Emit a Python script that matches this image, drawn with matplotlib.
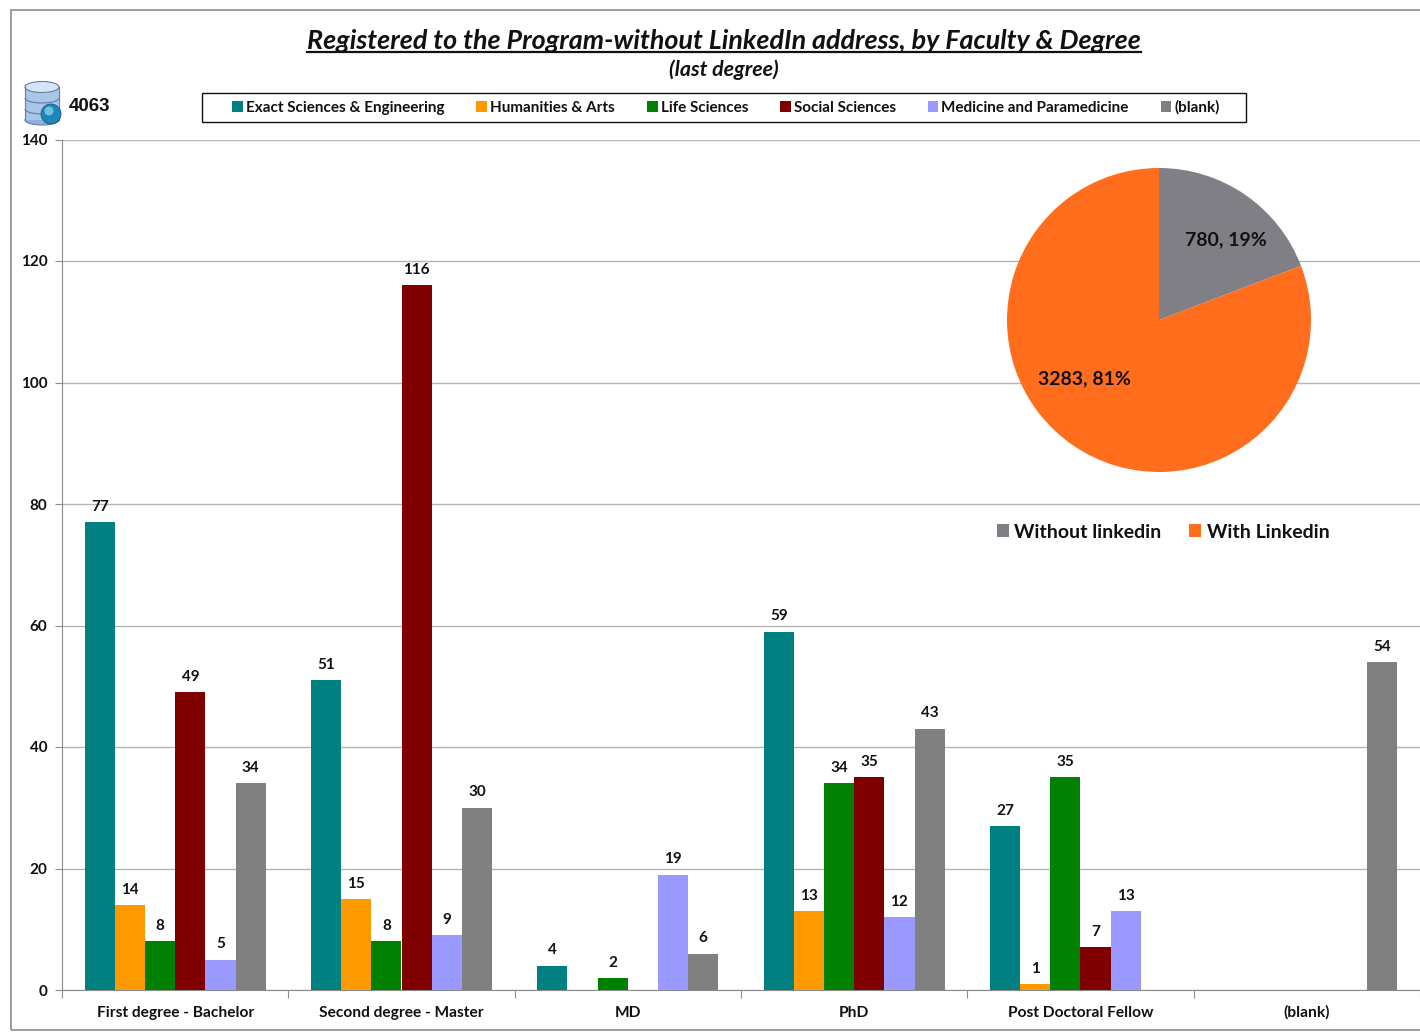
import numpy as np
import matplotlib
matplotlib.use('Agg')
import matplotlib.pyplot as plt
from matplotlib.patches import Rectangle, Ellipse, Circle, Arc
from matplotlib.lines import Line2D

plt.rcParams['font.family'] = ['Lato', 'DejaVu Sans']
plt.rcParams['font.weight'] = 'bold'

# values
degrees = ['First degree - Bachelor', 'Second degree - Master', 'MD', 'PhD',
           'Post Doctoral Fellow', '(blank)']
faculties = ['Exact Sciences & Engineering', 'Humanities & Arts', 'Life Sciences',
             'Social Sciences', 'Medicine and Paramedicine', '(blank)']
exact = [77, 51, 4, 59, 27, np.nan]
humanities = [14, 15, np.nan, 13, 1, np.nan]
life = [8, 8, 2, 34, 35, np.nan]
social = [49, 116, np.nan, 35, 7, np.nan]
medicine = [5, 9, 19, 12, 13, np.nan]
blank = [34, 30, 6, 43, np.nan, 54]
series = [exact, humanities, life, social, medicine, blank]
colors = ['#008080', '#FF9900', '#008000', '#800000', '#9999FF', '#808080']

pie_names = ['Without linkedin', 'With Linkedin']
pie_values = [780, 3283]
pie_colors = ['#7F7F85', '#FF6D1D']
total = 4063

W, H = 1420, 1032
fig = plt.figure(figsize=(W / 100, H / 100), dpi=100)


def fx(px):
    return px / W


def fy(py):
    return 1 - py / H


# outer frame of the chart area
fig.add_artist(Rectangle((fx(11), fy(1030)), fx(1440 - 11), fy(10) - fy(1030),
                         transform=fig.transFigure, fill=False, ec='#8C8C8C', lw=1.2))

ax = fig.add_axes([fx(62), fy(990), fx(1420 - 62), fy(139.5) - fy(990)])
width = 0.8 / 6
x = np.arange(len(degrees))
bars = []
for i, vals in enumerate(series):
    b = ax.bar(x - 0.4 + width * (i + 0.5), vals, width, color=colors[i], label=faculties[i],
               zorder=3)
    bars.append(b)
    labels = ['' if np.isnan(v) else str(v) for v in vals]
    ax.bar_label(b, labels=labels, padding=6, fontsize=11, fontweight='bold', color='#111111',
                 zorder=4)

ax.set_xlim(-0.5, 5.5)
ax.set_ylim(0, 140)
ax.set_yticks(np.arange(0, 141, 20))
ax.yaxis.grid(True, color='#B4B4B4', lw=1)
ax.set_axisbelow(True)
ax.set_xticks(np.arange(0, 7) - 0.5)
ax.set_xticklabels([])
ax.set_xticks(x, degrees, minor=True)
ax.tick_params(axis='x', which='minor', length=0, labelsize=11.15, pad=19.4, colors='#111111')
for lab in ax.get_xticklabels(minor=True):
    lab.set_va('baseline')
ax.tick_params(axis='x', which='major', length=6, color='#8C8C8C')
ax.tick_params(axis='y', length=5, color='#8C8C8C', labelsize=11, pad=5.5, labelcolor='#111111')
for s in ['top', 'right']:
    ax.spines[s].set_visible(False)
for s in ['left', 'bottom']:
    ax.spines[s].set_color('#8C8C8C')

# titles
fig.text(fx(724), fy(41), 'Registered to the Program-without LinkedIn address, by Faculty & Degree',
         ha='center', va='center', fontsize=19.4, style='italic', fontweight='bold', color='#111111')
fig.add_artist(Line2D([fx(307), fx(1141)], [fy(51.5), fy(51.5)], color='#111111', lw=1.6))
fig.text(fx(724), fy(70), '(last degree)', ha='center', va='center', fontsize=15.4,
         style='italic', fontweight='bold', color='#111111')

# database icon next to the total
icon = fig.add_axes([fx(22), fy(128), fx(42), fy(78) - fy(128)])
icon.set_xlim(22, 64)
icon.set_ylim(128, 78)
icon.axis('off')
icon.add_patch(Ellipse((42, 120), 34, 10, fc='#8FB0D8', ec='#5F7FA5', lw=0.8))
icon.add_patch(Rectangle((25, 87), 34, 33, fc='#A9C6E8', ec='none'))
icon.add_line(Line2D([25, 25], [87, 120], color='#5F7FA5', lw=0.8))
icon.add_line(Line2D([59, 59], [87, 120], color='#5F7FA5', lw=0.8))
for yy in [98, 109]:
    icon.add_patch(Arc((42, yy), 34, 10, theta1=0, theta2=180, color='#5F7FA5', lw=0.8))
icon.add_patch(Ellipse((42, 87), 34, 11, fc='#D5E5F6', ec='#5F7FA5', lw=0.8))
icon.add_patch(Circle((51, 114), 10, fc='#1E86B8', ec='#0F5F8C', lw=0.6, zorder=5))
icon.add_patch(Circle((49, 111), 4.5, fc='#6FC0E4', ec='none', zorder=6))
fig.text(fx(69), fy(106.5), str(total), ha='left', va='center', fontsize=13.5,
         family='Liberation Sans', fontweight='bold', color='#111111')

# faculty legend, box drawn on its own because it is wider than the entries
fig.add_artist(Rectangle((fx(202), fy(122)), fx(1246 - 202), fy(93) - fy(122),
                         transform=fig.transFigure, fc='white', ec='#111111', lw=1))
fig.legend(handles=[b[0] for b in bars], labels=faculties, ncol=6, loc='center',
           bbox_to_anchor=(fx(726), fy(107.5)), frameon=False, fontsize=10.95,
           handlelength=0.72, handleheight=0.72, handletextpad=0.2,
           columnspacing=2.08, labelcolor='#111111')

# pie inset
pie_ax = fig.add_axes([fx(1007), fy(472), fx(304), fy(168) - fy(472)])
wedges, _ = pie_ax.pie(pie_values, colors=pie_colors, startangle=90, counterclock=False, radius=1)
pie_ax.set_xlim(-1, 1)
pie_ax.set_ylim(-1, 1)
for v, pos in zip(pie_values, [(0.44, 0.53), (-0.49, -0.385)]):
    pct = round(100 * v / sum(pie_values))
    pie_ax.text(pos[0], pos[1], f'{v}, {pct}%', ha='center', va='center', fontsize=14,
                fontweight='bold', color='#111111')
fig.legend(handles=wedges, labels=pie_names, ncol=2, loc='center', bbox_to_anchor=(fx(1163), fy(532)),
           frameon=False, fontsize=14, handlelength=0.62, handleheight=0.62, handletextpad=0.3,
           columnspacing=1.4, labelcolor='#111111')

fig.savefig('out.png', dpi=100)
